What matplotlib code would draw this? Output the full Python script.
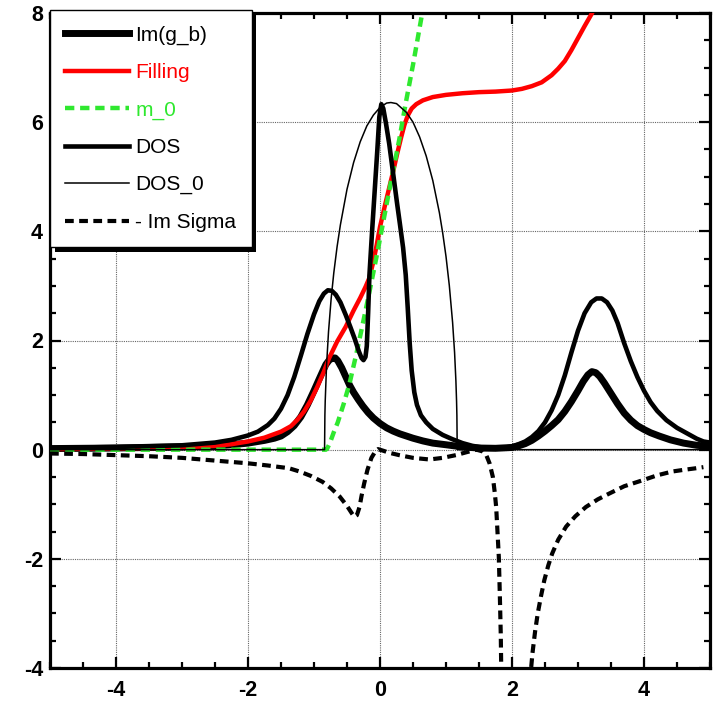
import matplotlib
matplotlib.use("Agg")
import matplotlib.pyplot as plt
from matplotlib.patches import Rectangle
from matplotlib.transforms import IdentityTransform

# ---------------- data ----------------
img_x = [-5.0, -4.5, -4.0, -3.5, -3.0, -2.5, -2.25, -2.0, -1.75, -1.6, -1.5, -1.4, -1.3,
         -1.2, -1.1, -1.0, -0.93, -0.87, -0.82, -0.77, -0.72, -0.68, -0.64, -0.58, -0.52,
         -0.46, -0.4, -0.33, -0.26, -0.18, -0.1, 0.0, 0.1, 0.2, 0.3, 0.4, 0.5, 0.65, 0.8,
         1.0, 1.25, 1.5, 1.75, 2.0, 2.1, 2.2, 2.3, 2.4, 2.5, 2.6, 2.7, 2.8, 2.9, 3.0,
         3.08, 3.15, 3.21, 3.27, 3.33, 3.4, 3.5, 3.6, 3.7, 3.8, 3.9, 4.0, 4.1, 4.23, 4.4,
         4.6, 4.8, 5.0]
img_y = [0.02, 0.025, 0.03, 0.04, 0.05, 0.07, 0.09, 0.12, 0.17, 0.21, 0.25, 0.33, 0.44,
         0.60, 0.82, 1.08, 1.27, 1.43, 1.56, 1.64, 1.68, 1.68, 1.63, 1.50, 1.34,
         1.18, 1.05, 0.92, 0.80, 0.68, 0.58, 0.48, 0.40, 0.34, 0.29, 0.25, 0.21, 0.16, 0.12,
         0.09, 0.05, 0.03, 0.025, 0.04, 0.07, 0.11, 0.17, 0.25, 0.34, 0.44, 0.55, 0.70, 0.88, 1.08,
         1.25, 1.37, 1.43, 1.41, 1.34, 1.22, 1.03, 0.84, 0.67, 0.54, 0.44, 0.37, 0.31, 0.25, 0.18,
         0.12, 0.08, 0.06]

fill_x = [-5.0, -4.0, -3.0, -2.5, -2.25, -2.0, -1.75, -1.5, -1.35, -1.25, -1.15, -1.05,
          -0.95, -0.85, -0.77, -0.65, -0.52, -0.4, -0.3, -0.22, -0.16, -0.1, -0.05, 0.0,
          0.07, 0.14, 0.2, 0.26, 0.32, 0.37, 0.42, 0.48, 0.55, 0.65, 0.8, 1.0, 1.25, 1.5,
          1.75, 2.0, 2.15, 2.3, 2.45, 2.6, 2.7, 2.8, 2.9, 3.0, 3.1, 3.2, 3.3]
fill_y = [0.01, 0.02, 0.04, 0.07, 0.10, 0.15, 0.22, 0.33, 0.43, 0.55, 0.70, 0.90,
          1.15, 1.43, 1.68, 1.98, 2.25, 2.55, 2.78, 2.98, 3.15, 3.45, 3.75, 4.08,
          4.45, 4.80, 5.10, 5.42, 5.72, 5.95, 6.12, 6.25, 6.33, 6.40, 6.46, 6.50, 6.53, 6.55,
          6.56, 6.58, 6.61, 6.66, 6.73, 6.86, 6.98, 7.12, 7.32, 7.54, 7.76, 7.97, 8.20]

m0_x = [-5.0, -0.82, -0.8, -0.76, -0.7, -0.64, -0.55, -0.46, -0.35, -0.26, -0.15,
        -0.05, 0.05, 0.14, 0.29, 0.39, 0.5, 0.64, 0.7]
m0_y = [0.0, 0.0, 0.02, 0.12, 0.32, 0.50, 0.84, 1.22, 1.80, 2.31, 2.95,
        3.55, 4.18, 4.75, 5.67, 6.35, 7.05, 8.00, 8.40]

dos_x = [-5.0, -4.5, -4.0, -3.5, -3.0, -2.5, -2.25, -2.0, -1.85, -1.7, -1.6, -1.5, -1.4,
         -1.3, -1.2, -1.1, -1.0, -0.92, -0.85, -0.79, -0.73, -0.67, -0.6, -0.52, -0.45,
         -0.38, -0.32, -0.28, -0.25, -0.22, -0.2, -0.18, -0.16, -0.12, -0.08, -0.04, -0.01,
         0.02, 0.05, 0.09, 0.14, 0.2, 0.26, 0.3, 0.35, 0.39, 0.42, 0.45, 0.48, 0.52, 0.56,
         0.62, 0.7, 0.8, 0.95, 1.1, 1.25, 1.4, 1.55, 1.7, 1.85, 2.0, 2.1, 2.2, 2.3, 2.4,
         2.5, 2.6, 2.7, 2.8, 2.9, 3.0, 3.1, 3.2, 3.28, 3.36, 3.44, 3.52, 3.6, 3.7, 3.8,
         3.9, 4.0, 4.1, 4.2, 4.34, 4.5, 4.65, 4.8, 4.9, 5.0]
dos_y = [0.03, 0.04, 0.05, 0.065, 0.08, 0.13, 0.18, 0.26, 0.33, 0.45, 0.57, 0.75, 1.00,
         1.33, 1.72, 2.12, 2.48, 2.72, 2.86, 2.92, 2.91, 2.84, 2.70, 2.47, 2.25,
         2.02, 1.80, 1.68, 1.64, 1.70, 1.90, 2.50, 3.20, 4.00, 4.75, 5.50, 6.10,
         6.33, 6.25, 5.98, 5.60, 5.05, 4.50, 4.15, 3.70, 3.20, 2.60, 1.95, 1.45, 1.05, 0.82,
         0.63, 0.50, 0.38, 0.27, 0.19, 0.12, 0.07, 0.04, 0.025, 0.03, 0.06, 0.10, 0.15, 0.23, 0.34,
         0.50, 0.72, 1.00, 1.36, 1.78, 2.18, 2.50, 2.70, 2.77, 2.77, 2.70, 2.55, 2.32, 1.95, 1.62,
         1.33, 1.08, 0.87, 0.71, 0.54, 0.40, 0.30, 0.20, 0.15, 0.13]

dos0_x = [-5.0, -0.84, -0.835, -0.83, -0.81, -0.78, -0.74, -0.70, -0.65, -0.60, -0.50,
          -0.40, -0.30, -0.20, -0.10, 0.0, 0.10, 0.165, 0.25, 0.40, 0.50, 0.60, 0.70,
          0.80, 0.90, 0.95, 1.00, 1.05, 1.10, 1.13, 1.15, 1.16, 1.165, 1.17, 5.0]
dos0_y = [0.0, 0.0, 0.63, 0.89, 1.54, 2.16, 2.77, 3.24, 3.72, 4.12, 4.77,
          5.26, 5.64, 5.93, 6.13, 6.27, 6.35, 6.36, 6.34, 6.18, 6.00, 5.73, 5.38,
          4.93, 4.34, 3.97, 3.54, 3.01, 2.33, 1.78, 1.26, 0.89, 0.63, 0.0, 0.0]

sig_x1 = [-5.0, -4.5, -4.0, -3.5, -3.0, -2.5, -2.0, -1.7, -1.38, -1.22, -1.05, -0.87,
          -0.74, -0.61, -0.5, -0.43, -0.39, -0.35, -0.31, -0.28, -0.24, -0.19, -0.13,
          -0.07, -0.03, 0.05, 0.15, 0.29, 0.5, 0.75, 0.95, 1.15, 1.3, 1.46, 1.55, 1.61,
          1.66, 1.71, 1.74, 1.76, 1.78, 1.80, 1.81, 1.82, 1.83, 1.835, 1.84]
sig_y1 = [-0.07, -0.08, -0.10, -0.12, -0.15, -0.20, -0.25, -0.29, -0.34, -0.40, -0.48, -0.59,
          -0.71, -0.86, -1.03, -1.16, -1.23, -1.20, -1.05, -0.85, -0.62, -0.37, -0.15,
          -0.03, 0.01, -0.02, -0.06, -0.10, -0.15, -0.18, -0.15, -0.10, -0.05, 0.0, -0.03, -0.10,
          -0.25, -0.50, -0.80, -1.05, -1.50, -1.96, -2.40, -2.88, -3.40, -3.85, -4.50]
sig_x2 = [2.27, 2.29, 2.31, 2.35, 2.39, 2.44, 2.49, 2.55, 2.61, 2.7, 2.82, 2.96, 3.12,
          3.3, 3.48, 3.7, 3.98, 4.2, 4.43, 4.6, 4.79, 4.9]
sig_y2 = [-4.5, -4.0, -3.73, -3.33, -3.00, -2.68, -2.39, -2.12, -1.90, -1.65, -1.41, -1.22, -1.05,
          -0.91, -0.80, -0.67, -0.56, -0.47, -0.40, -0.37, -0.34, -0.32]

labels = ["Im(g_b)", "Filling", "m_0", "DOS", "DOS_0", "- Im Sigma"]
x_ticks = [-4, -2, 0, 2, 4]
y_ticks = [-4, -2, 0, 2, 4, 6, 8]

# ---------------- figure ----------------
W, H = 713, 724
fig = plt.figure(figsize=(W / 100, H / 100), dpi=100)
ax = fig.add_axes([50 / W, 56 / H, 660 / W, 655 / H])

green = "#2fe82f"
ax.plot(img_x, img_y, color="black", lw=5.0, label=labels[0], zorder=3)
ax.plot(fill_x, fill_y, color="#ff0000", lw=3.2, label=labels[1], zorder=3)
ax.plot(m0_x, m0_y, color=green, lw=3.2, dashes=(2.1, 1.3), label=labels[2], zorder=3)
ax.plot(dos_x, dos_y, color="black", lw=3.3, label=labels[3], zorder=3)
ax.plot(dos0_x, dos0_y, color="black", lw=1.1, label=labels[4], zorder=3)
ax.plot(sig_x1, sig_y1, color="black", lw=3.0, dashes=(2.1, 1.3), label=labels[5], zorder=3)
ax.plot(sig_x2, sig_y2, color="black", lw=3.0, dashes=(2.1, 1.3), zorder=3)

ax.set_xlim(-5, 5)
ax.set_ylim(-4, 8)
ax.set_xticks(x_ticks)
ax.set_yticks(y_ticks)
ax.set_xticks([v / 2 for v in range(-10, 11)], minor=True)
ax.set_yticks([v / 2 for v in range(-8, 17)], minor=True)
ax.set_xticklabels([str(v) for v in x_ticks])
ax.set_yticklabels([str(v) for v in y_ticks])

for lab in ax.get_xticklabels() + ax.get_yticklabels():
    lab.set_family(["Liberation Sans", "DejaVu Sans"])
    lab.set_fontweight("bold")
    lab.set_fontsize(15.5)

ax.tick_params(which="both", direction="in", top=True, right=True, width=1.6)
ax.tick_params(which="major", length=8)
ax.tick_params(which="minor", length=4.5)
ax.tick_params(axis="x", which="major", pad=9)
ax.tick_params(axis="y", which="major", pad=5)
for s in ax.spines.values():
    s.set_linewidth(2.3)

ax.grid(True, which="major", linestyle=(0, (1, 1)), color="#666666", linewidth=0.8, zorder=0)
ax.set_axisbelow(True)

leg = ax.legend(loc="upper left", bbox_to_anchor=(0.0, 1.0046), borderaxespad=0.0,
                prop={"family": ["Liberation Sans", "DejaVu Sans"], "size": 15},
                handlelength=3.05, handletextpad=0.3, labelspacing=0.88,
                borderpad=0.74, fancybox=False, framealpha=1, edgecolor="black")
leg.get_frame().set_linewidth(1.0)
leg.set_zorder(10)
texts = leg.get_texts()
texts[1].set_color("#ff0000")
texts[2].set_color(green)

fig.canvas.draw()
bb = leg.get_window_extent()
shadow = Rectangle((bb.x0 + 4.5, bb.y0 - 4.5), bb.width, bb.height,
                   transform=IdentityTransform(), facecolor="black",
                   edgecolor="none", zorder=9, clip_on=False)
ax.add_artist(shadow)

fig.savefig("out.png", dpi=100)
